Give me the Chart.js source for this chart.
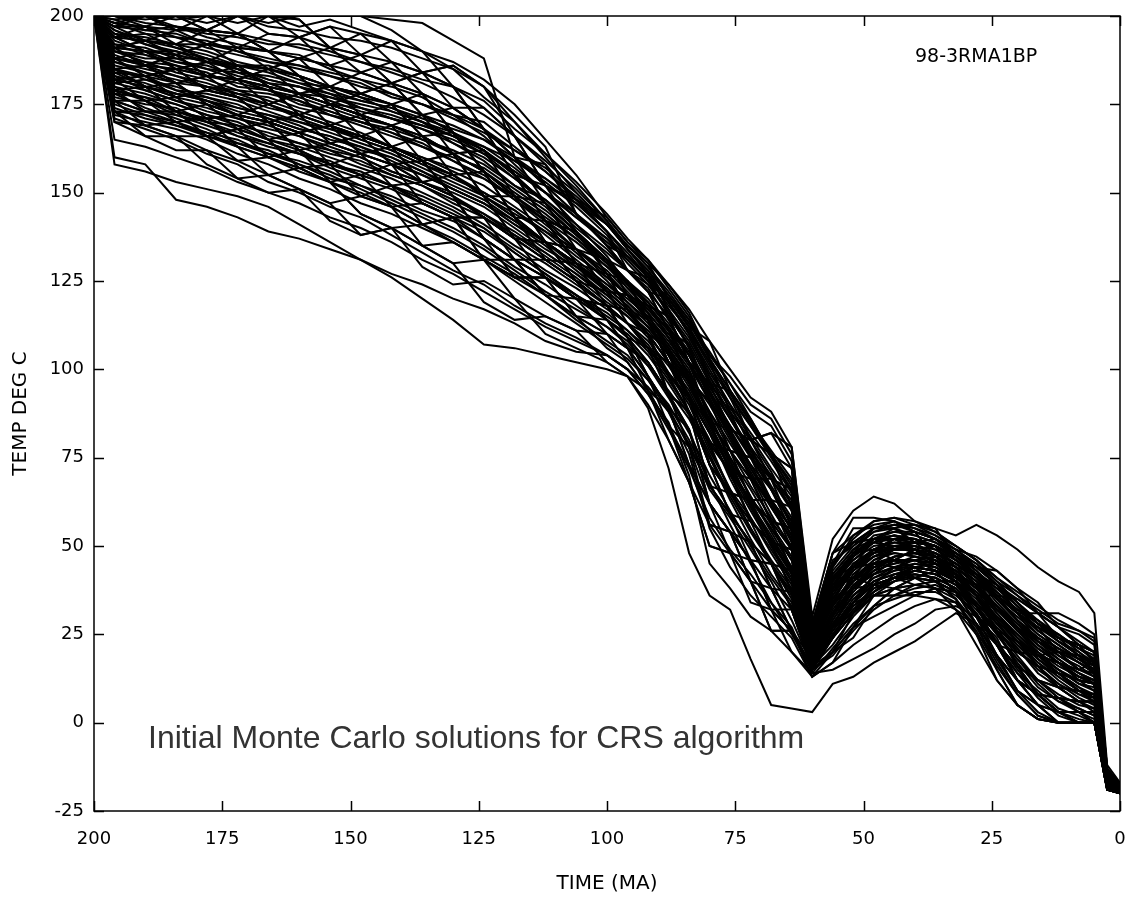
<!DOCTYPE html>
<html><head><meta charset="utf-8">
<script src="https://cdn.jsdelivr.net/npm/chart.js@4.4.1/dist/chart.umd.min.js"></script>
<style>html,body{margin:0;padding:0;background:#fff;}canvas{display:block;}</style>
</head><body>
<canvas id="c" width="1132" height="897"></canvas>
<script>
// Time grid (Ma) shared by every Monte Carlo path
const times = [200,196,190,184,178,172,166,160,154,148,142,136,130,124,118,112,106,100,96,92,88,84,80,76,72,68,64,60,56,52,48,44,40,36,32,28,24,20,16,12,8,5,2.5,0];

// Temperature paths (deg C), one array per Monte Carlo solution
const r01 = [200,185,186,181,183,182,175,172,175,172,163,159,161,156,143,136,134,122,121,114,102,97,85,71,69,57,55,21,38,41,49,46,49,45,42,33,26,20,19,14,12,11,-16,-19];
const r02 = [200,194,193,189,192,186,185,188,186,178,175,166,167,162,149,142,139,127,121,118,111,107,91,83,80,69,66,27,45,55,55,57,54,52,47,44,39,31,27,24,19,17,-15,-18];
const r03 = [200,176,176,170,166,168,160,157,158,155,146,141,143,131,126,126,115,110,106,98,84,78,56,54,40,38,26,16,20,31,36,38,41,38,37,28,19,9,5,0,0,0,-18,-20];
const r04 = [200,200,200,200,200,195,200,199,191,189,193,184,180,168,160,147,139,131,125,114,106,97,85,71,63,63,55,23,38,48,52,49,49,50,44,39,32,27,19,17,15,14,-17,-19];
const r05 = [200,191,186,185,187,186,180,178,175,166,163,159,149,143,137,136,125,118,109,102,93,78,67,59,46,45,37,20,34,38,42,46,44,43,37,30,22,16,8,7,6,6,-18,-19];
const r06 = [200,182,183,181,175,172,175,172,164,161,163,166,155,149,149,142,130,122,117,110,98,88,79,65,57,51,37,18,27,38,45,46,46,47,42,36,26,20,16,10,9,8,-16,-19];
const r07 = [200,197,197,192,196,195,190,194,191,195,193,190,180,174,166,152,144,135,128,126,120,112,108,94,86,76,72,28,48,51,52,52,51,52,49,47,43,38,34,27,25,22,-14,-18];
const r08 = [200,179,180,177,179,177,170,167,158,155,158,153,149,137,131,121,115,114,109,98,89,83,62,54,51,38,32,15,24,34,39,41,44,43,40,30,19,12,5,3,3,0,-19,-20];
const r09 = [200,188,190,189,183,182,185,183,180,172,169,172,174,168,160,152,148,139,128,122,115,102,91,77,69,57,49,21,31,38,45,46,44,40,37,33,26,23,19,17,12,11,-15.5,-18.5];
const r10 = [200,173,169,170,166,159,155,157,153,155,152,141,136,131,120,115,111,110,102,94,84,68,56,48,34,32,26,18,27,34,39,38,39,40,35,25,15,5,1,0,0,0,-19,-20];
const r11 = [200,194,190,189,183,182,180,172,169,166,169,166,161,162,155,147,134,127,125,118,115,107,96,94,80,76,61,25,41,44,52,55,51,50,42,39,29,23,19,20,19,14,-16,-19];
const r12 = [200,185,180,177,171,168,165,167,164,161,152,147,143,143,137,136,130,122,121,114,102,92,79,71,57,51,43,20,31,41,45,49,49,45,42,33,26,16,12,10,6,6,-18,-19];
const r13 = [200,200,197,200,196,200,200,194,197,195,187,184,186,180,166,158,144,135,128,122,111,97,85,77,75,63,55,23,34,41,49,49,51,47,42,39,36,31,27,24,22,17,-15,-18];
const r14 = [200,170,169,166,162,154,155,151,142,138,140,135,130,119,114,115,111,102,98,90,80,68,50,48,40,26,26,15,20,27,36,36,36,38,32,22,12,5,1,0,0,0,-18,-20];
const r15 = [200,191,193,192,192,195,190,188,180,178,175,178,174,168,155,147,139,131,121,114,102,92,73,65,63,57,43,18,24,34,42,44,41,43,40,33,29,20,16,14,9,8,-18,-19];
const r16 = [200,182,176,173,171,172,170,162,158,149,146,135,130,131,126,126,120,118,113,106,102,92,85,77,75,69,66,27,41,41,45,46,44,43,40,36,36,31,31,31,28,25,-13,-17.5];
const r17 = [200,188,183,185,179,177,170,167,169,166,163,153,149,137,131,126,120,114,106,102,93,88,73,59,51,45,32,16,27,38,42,46,46,45,40,30,22,12,8,3,3,3,-17,-19];
const r18 = [200,197,200,196,196,191,190,183,180,178,181,172,167,156,149,136,130,122,113,106,93,83,62,54,46,32,26,15,24,31,39,41,41,40,35,28,15,5,1,0,0,0,-19,-20];
const r19 = [200,176,173,173,175,168,165,157,153,144,140,135,136,131,131,131,125,118,117,110,106,97,91,83,69,63,49,21,38,44,49,52,54,47,44,39,36,31,23,20,15,14,-16,-19];
const r20 = [200,185,186,185,183,177,175,178,175,172,163,159,155,149,137,131,125,118,109,102,93,88,73,65,63,57,55,23,38,41,45,44,44,43,37,30,22,20,16,10,9,8,-15.5,-18.5];
const r21 = [200,179,176,177,175,172,165,162,158,161,158,159,155,149,143,131,125,114,109,98,89,73,56,54,46,45,37,18,31,38,39,41,39,38,35,25,19,12,8,3,3,3,-17,-19];
const r22 = [200,194,197,196,200,200,195,194,186,184,181,184,174,168,160,158,148,143,136,130,120,112,96,88,75,69,55,23,41,48,55,55,56,55,47,42,36,35,31,24,22,17,-15,-18.5];
const r23 = [200,173,166,162,162,159,160,157,153,144,140,141,143,137,131,121,115,110,106,102,93,83,67,65,57,45,43,20,27,31,36,36,39,38,37,30,26,16,12,7,6,6,-17,-19];
const r24 = [200,191,190,185,179,177,175,178,180,178,175,166,161,156,143,142,139,131,125,114,106,92,79,71,57,51,49,21,34,44,49,49,49,45,42,36,29,23,16,14,12,11,-18,-19];
const r25 = [200,185,183,177,179,182,185,183,175,172,169,159,149,143,137,126,120,118,113,106,98,88,67,59,51,45,32,16,24,34,39,44,46,45,42,39,29,23,19,17,12,11,-16,-19];
const r26 = [200,200,200,196,192,191,195,194,197,189,187,178,167,162,155,142,134,127,117,110,102,97,85,83,80,76,72,28,45,51,52,52,49,47,47,42,39,35,31,27,22,20,-14,-18];
const r27 = [200,176,169,166,158,154,150,151,147,149,146,147,143,143,137,131,130,122,121,114,102,88,73,59,51,38,26,15,20,24,33,38,39,40,37,28,19,9,5,0,0,0,-18,-19];
const r28 = [200,188,186,189,187,191,190,183,175,172,163,159,161,162,155,152,144,135,132,126,115,102,85,77,63,57,43,20,34,41,42,44,41,40,40,33,22,16,8,7,6,3,-18,-20];
const r29 = [200,182,180,181,183,182,180,172,169,161,158,153,155,156,149,136,130,127,121,118,111,102,96,83,69,63,61,25,41,48,49,52,49,47,42,39,32,27,23,20,15,17,-15.5,-19];
const r30 = [200,197,193,192,187,182,180,178,180,184,187,184,180,168,155,142,130,118,109,106,98,92,79,77,69,69,61,25,38,44,45,46,46,47,44,42,36,31,27,24,22,17,-15,-18.5];
const r31 = [200,179,173,170,171,163,160,162,164,166,163,159,149,137,126,121,120,114,106,98,89,73,62,48,40,26,26,13,17,27,33,38,36,38,32,25,12,5,1,0,0,0,-19,-20];
const r32 = [200,191,193,196,196,195,190,188,186,189,181,178,167,156,149,147,139,127,117,110,93,88,67,59,57,51,37,18,27,34,36,38,41,40,40,33,22,16,8,7,3,3,-18,-20];
const r33 = [200,185,180,173,166,168,170,172,175,172,175,172,167,156,143,136,134,131,128,122,120,112,102,88,80,82,78,28,48,58,58,57,54,52,49,44,43,38,31,27,22,20,-14,-18];
const r34 = [200,173,173,173,171,172,170,162,153,149,152,153,149,143,131,126,115,106,102,94,89,78,62,54,40,32,20,13,20,27,30,33,36,35,32,28,22,12,8,3,0,0,-19,-20];
const r35 = [200,194,190,185,183,186,185,188,191,189,181,172,161,149,143,136,125,122,117,114,106,92,73,65,63,63,55,23,38,41,39,41,44,45,42,39,32,27,19,14,9,8,-17,-19];
const r36 = [200,188,186,181,175,172,170,167,169,172,169,166,161,149,137,131,125,118,113,110,102,97,85,71,63,51,49,20,31,38,45,46,49,47,44,36,26,16,12,10,6,6,-18,-20];
const r37 = [200,200,200,200,196,200,200,199,191,184,181,178,174,174,166,152,139,131,121,118,115,107,91,83,69,57,49,21,38,44,45,46,46,43,40,30,22,12,8,3,3,0,-19,-20];
const r38 = [200,170,166,166,166,163,155,151,147,138,140,129,124,125,120,110,106,102,98,94,84,73,62,54,46,32,32,16,24,31,39,41,44,43,42,36,26,20,16,10,9,8,-16,-19];
const r39 = [200,182,183,185,187,186,180,178,169,166,158,147,143,131,126,126,120,110,106,94,80,68,50,48,46,38,37,18,27,34,39,41,44,40,37,30,19,12,5,3,0,0,-18,-19];
const r40 = [200,191,186,189,192,191,185,178,175,178,181,184,186,180,172,163,144,135,128,122,111,102,96,88,80,82,72,27,45,51,55,55,51,50,47,42,39,31,27,20,19,14,-15.5,-18.5];
const r41 = [200,158,156,153,151,149,146,141,136,131,126,120,114,107,106,104,102,100,98,89,72,48,36,32,18,5,4,3,11,13,17,20,23,27,31,28,18,9,3,0,0,0,-18,-19.5];
const r42 = [200,160,158,148,146,143,139,137,134,131,127,124,120,117,113,108,105,104,100,93,85,70,45,38,30,26,20,14,15,18,21,25,28,32,33,30,24,12,5,0,0,0,-18,-20];
const r43 = [200,165,163,160,157,153,150,147,143,140,136,131,127,122,117,112,108,104,100,95,88,76,55,44,36,30,24,13,17,22,26,30,33,35,34,26,16,8,2,0,0,0,-19,-20];
const r44 = [200,200,200,200,200,200,200,200,200,200,199,198,193,188,160,152,147,141,135,130,124,117,108,100,92,88,78,30,52,60,64,62,57,54,50,46,40,34,28,24,22,20,-14,-18];
const r45 = [200,198,200,199,200,198,200,197,199,196,193,190,187,182,175,165,155,143,136,131,124,116,104,98,90,86,76,28,48,53,57,58,57,55,53,56,53,49,44,40,37,31,-12,-17];
const r46 = [200,200,200,200,200,200,198,200,200,200,196,190,185,177,170,160,150,141,134,128,121,114,104,96,88,84,74,28,46,50,55,56,56,54,50,46,41,36,32,28,26,24,-13,-17.5];
const r47 = [200,190,187,186,184,180,179,176,172,170,168,165,162,158,152,148,140,133,128,124,116,108,97,86,78,70,62,24,40,47,51,53,52,50,46,41,35,29,24,21,17,14,-16,-19];
const r48 = [200,178,174,171,168,164,162,158,155,151,147,143,139,134,128,122,117,112,108,101,92,82,70,60,50,41,33,17,25,33,37,40,42,41,38,31,22,14,9,4,2,0,-18,-20];
const r49 = [200,199,196,197,194,192,190,189,185,182,180,177,172,166,158,150,141,132,124,116,104,92,78,66,55,46,38,19,30,39,43,47,48,46,42,36,28,21,14,10,6,4,-17,-19.5];
const r50 = [200,183,181,178,177,175,171,168,166,162,160,156,151,147,141,135,128,121,116,111,104,97,88,79,70,61,52,22,36,45,49,51,50,48,44,40,33,27,22,18,14,12,-16,-19];
const r51 = [200,196,192,190,187,185,181,180,176,173,171,168,165,161,156,150,143,136,131,125,119,111,101,92,84,76,68,26,43,50,54,55,53,51,48,45,40,36,31,27,23,20,-14,-18];
const r52 = [200,171,168,165,161,158,153,150,146,143,138,133,128,124,118,113,109,104,100,93,83,72,58,49,42,34,27,14,21,28,33,35,37,37,34,27,17,8,2,0,0,0,-19,-20];
const r53 = [200,200,199,200,198,200,197,196,194,193,191,188,185,180,170,161,152,142,134,128,119,110,99,90,82,74,65,26,44,52,57,58,56,53,50,46,41,37,33,29,26,23,-13,-17.5];
const r54 = [200,187,185,183,180,179,176,173,170,167,163,160,156,152,146,140,133,125,119,113,105,96,86,75,66,56,47,21,33,40,46,48,47,46,41,36,30,25,19,15,11,9,-17,-19];
const r55 = [200,175,172,169,167,163,160,156,153,150,146,141,137,132,127,121,114,108,104,97,88,79,66,58,49,40,29,16,22,30,36,40,43,42,39,33,25,18,11,6,4,2,-18,-19.5];
const r56 = [200,192,191,188,188,184,183,181,178,176,174,170,167,163,157,150,143,137,130,124,117,109,98,89,81,72,64,25,39,46,51,50,50,48,45,41,36,32,29,25,21,18,-15,-18.5];
const r57 = [200,180,178,175,172,170,166,164,162,158,155,152,147,143,138,133,127,120,115,109,99,91,80,71,61,52,44,19,28,36,41,43,45,44,40,35,28,22,17,12,8,7,-17,-19];
const r58 = [200,198,197,194,193,190,187,186,183,181,177,175,172,170,163,156,148,139,132,127,119,110,100,90,78,66,54,22,35,43,48,50,48,46,43,38,32,26,21,17,13,11,-16,-19];
const r59 = [200,177,175,174,170,167,164,161,159,155,152,148,144,140,134,128,123,117,113,107,99,90,77,66,58,49,40,18,27,35,40,43,44,43,40,34,27,21,15,11,8,6,-17,-19];
const r60 = [200,190,188,188,185,184,181,178,175,174,171,169,166,163,159,154,148,141,134,127,117,106,93,82,72,63,53,22,36,44,48,52,51,50,47,41,34,28,23,19,16,13,-15.5,-18.5];
const r61 = [200,183,179,176,174,171,169,166,163,160,156,153,150,146,140,134,129,123,118,112,106,98,90,80,70,62,51,22,34,40,44,46,46,45,42,38,33,28,24,20,17,15,-15,-18];
const r62 = [200,172,170,168,165,161,158,154,151,147,144,140,136,131,125,119,113,107,103,97,90,80,68,56,45,34,25,15,19,26,32,36,38,39,36,31,23,15,8,3,1,0,-18,-20];
const r63 = [200,200,198,197,196,195,193,191,189,187,185,182,180,176,168,161,153,144,137,131,123,115,103,92,80,71,60,24,42,49,52,53,52,49,45,41,36,31,25,21,18,16,-15,-18.5];
const r64 = [200,186,184,181,180,177,174,172,169,165,162,158,154,150,145,138,131,124,120,115,108,100,87,74,61,50,40,18,29,37,43,47,48,47,43,38,31,25,20,15,11,10,-17,-19];
const r65 = [200,194,195,191,189,186,186,183,180,177,173,170,166,161,154,147,139,130,123,117,110,102,91,82,73,66,57,23,37,44,47,49,50,49,46,42,38,33,28,25,20,16,-15,-18];
const r66 = [200,179,177,173,170,169,165,163,160,157,154,150,146,141,135,130,124,118,113,108,101,92,82,69,58,48,39,17,25,32,37,42,44,43,41,36,30,23,18,13,9,6,-17,-19.5];
const r67 = [200,196,193,191,188,185,182,180,177,175,173,170,164,159,152,146,138,130,124,119,112,104,94,84,76,70,63,25,40,46,50,51,51,50,47,44,39,33,26,22,18,15,-16,-19];
const r68 = [200,181,182,180,177,174,172,169,165,163,159,155,151,147,142,136,129,122,117,112,105,96,84,72,63,55,46,20,31,39,44,45,46,44,41,37,32,26,20,16,13,11,-16,-19];
const r69 = [200,189,186,183,181,178,177,174,172,169,166,163,160,157,151,145,138,130,124,118,109,98,85,73,62,51,42,19,29,38,44,47,48,46,42,37,30,24,18,14,10,8,-17,-19];
const r70 = [200,174,171,169,166,164,161,158,154,152,148,144,140,135,129,124,118,112,107,101,94,86,75,65,55,45,35,16,24,31,37,41,43,42,39,33,25,17,10,6,3,1,-18,-20];
const r71 = [200,197,196,195,192,190,188,186,184,182,178,175,171,167,162,157,150,141,134,127,119,110,98,87,77,67,58,24,39,47,53,54,54,52,48,43,37,32,28,23,19,17,-15,-18];
const r72 = [200,184,183,179,176,174,172,170,167,164,161,157,153,149,144,139,134,128,122,116,109,101,91,81,71,61,52,21,35,43,47,48,47,45,41,36,30,24,19,15,12,9,-16.5,-19];
const r73 = [200,192,189,187,185,182,179,177,174,171,169,165,161,156,150,144,137,129,123,117,111,104,95,86,76,66,56,23,38,45,49,50,49,47,43,38,33,28,22,17,13,11,-16,-19];
const r74 = [200,176,173,172,169,166,164,161,158,156,152,149,145,140,133,127,121,114,110,104,96,87,75,63,52,42,34,17,25,32,38,40,41,40,37,30,22,14,7,2,0,0,-18.5,-20];
const r75 = [200,199,200,197,195,194,192,192,190,187,184,181,177,172,166,159,151,142,135,129,122,114,103,94,85,76,67,26,44,53,56,57,55,52,48,43,36,29,24,20,17,14,-15.5,-18.5];
const r76 = [200,185,182,179,178,176,173,170,168,166,163,160,157,154,148,142,136,129,125,119,112,104,93,82,72,62,53,22,33,42,47,50,51,50,46,41,35,30,25,21,18,15,-15.5,-18.5];
const r77 = [200,188,187,184,182,179,178,176,173,170,167,164,159,155,148,141,134,126,121,115,107,99,87,75,64,54,44,20,30,38,43,45,47,46,43,38,31,24,18,14,10,7,-17,-19.5];
const r78 = [200,180,176,172,170,166,163,161,157,154,151,147,143,139,133,127,121,116,111,105,97,88,76,64,54,45,36,17,26,34,40,42,42,41,38,32,25,18,12,8,5,4,-17.5,-19.5];
const r79 = [200,195,194,192,190,187,185,182,179,176,174,171,168,165,159,153,146,138,131,125,116,106,94,83,73,63,55,23,38,47,52,54,53,51,47,42,37,32,27,23,20,17,-15,-18];
const r80 = [200,182,180,178,176,173,171,168,166,163,160,156,152,148,142,136,130,123,118,112,104,95,84,74,64,55,46,20,32,40,45,47,48,47,44,39,33,26,21,17,13,12,-16,-19];
const r81 = [200,191,190,187,186,183,181,178,177,174,171,168,164,160,154,148,141,134,128,123,114,104,92,81,70,59,49,21,35,44,48,49,49,48,45,40,35,29,24,19,15,13,-16,-19];
const r82 = [200,178,177,175,172,169,167,164,161,159,155,152,148,144,138,132,126,119,115,110,102,94,83,72,62,53,43,19,28,36,40,42,43,42,39,34,28,22,16,11,7,5,-17,-19.5];
const r83 = [200,193,190,190,188,186,184,181,180,177,175,172,169,165,160,154,147,139,133,126,118,111,102,93,84,75,66,25,42,49,54,56,54,52,48,44,39,34,29,24,21,19,-14.5,-18];
const r84 = [200,187,184,182,180,178,175,171,168,165,162,158,155,150,145,139,132,126,121,116,109,102,93,84,75,66,57,23,37,44,48,50,50,48,45,41,35,29,23,18,14,12,-16,-19];
const r85 = [200,173,172,170,167,165,161,159,156,152,149,145,142,137,131,126,121,115,111,106,99,92,82,72,62,52,42,18,26,33,38,41,42,41,38,33,26,19,12,7,4,2,-18,-19.5];
const r86 = [200,198,195,194,191,189,187,185,183,180,178,175,172,168,162,156,149,141,135,129,121,113,103,94,85,77,69,27,45,51,55,56,55,53,49,45,39,34,28,23,19,16,-15.5,-18.5];
const r87 = [200,184,180,178,176,172,170,167,164,161,158,155,151,147,141,136,130,124,119,114,107,99,88,77,67,58,50,21,33,41,46,49,49,47,44,39,33,27,21,17,14,11,-16.5,-19];
const r88 = [200,181,179,176,173,171,168,166,162,160,156,153,149,144,139,133,127,121,116,110,102,93,82,70,60,50,41,18,28,36,41,44,45,44,41,36,29,23,17,13,9,7,-17,-19.5];
const r89 = [200,190,189,186,183,181,179,175,173,170,167,163,159,154,149,143,137,130,125,120,113,105,95,86,77,69,60,24,40,48,52,53,52,50,46,42,36,31,26,22,18,15,-15.5,-18.5];
const r90 = [200,195,192,189,187,185,182,180,178,174,172,169,166,162,156,150,144,137,132,126,120,113,105,96,86,76,65,25,41,48,51,52,52,50,47,43,38,33,28,25,21,18,-15,-18];

const runs = [r01,r02,r03,r04,r05,r06,r07,r08,r09,r10,r11,r12,r13,r14,r15,r16,r17,r18,r19,r20,
              r21,r22,r23,r24,r25,r26,r27,r28,r29,r30,r31,r32,r33,r34,r35,r36,r37,r38,r39,r40,
              r41,r42,r43,r44,r45,r46,r47,r48,r49,r50,r51,r52,r53,r54,r55,r56,r57,r58,r59,r60,
              r61,r62,r63,r64,r65,r66,r67,r68,r69,r70,r71,r72,r73,r74,r75,r76,r77,r78,r79,r80,
              r81,r82,r83,r84,r85,r86,r87,r88,r89,r90];

const xTickValues = [200,175,150,125,100,75,50,25,0];
const yTickValues = [200,175,150,125,100,75,50,25,0,-25];
const xTitle = 'TIME (MA)';
const yTitle = 'TEMP DEG C';
const sampleLabel = '98-3RMA1BP';
const noteLabel = 'Initial Monte Carlo solutions for CRS algorithm';

const datasets = runs.map((run, k) => ({
  label: 'run ' + (k + 1),
  data: times.map((t, i) => ({x: t, y: run[i]})),
  borderColor: '#000',
  borderWidth: 2,
  pointRadius: 0,
  pointHoverRadius: 0,
  fill: false,
  tension: 0
}));

const framePlugin = {
  id: 'frame',
  afterDatasetsDraw(chart) {
    const {ctx, chartArea: a, scales: {x, y}} = chart;
    ctx.save();
    ctx.strokeStyle = '#000';
    ctx.lineWidth = 1.5;
    ctx.strokeRect(a.left, a.top, a.right - a.left, a.bottom - a.top);
    const L = 10;
    ctx.beginPath();
    x.ticks.forEach(t => {
      const px = Math.round(x.getPixelForValue(t.value)) + 0.5;
      ctx.moveTo(px, a.bottom); ctx.lineTo(px, a.bottom - L);
      ctx.moveTo(px, a.top); ctx.lineTo(px, a.top + L);
    });
    y.ticks.forEach(t => {
      const py = Math.round(y.getPixelForValue(t.value)) + 0.5;
      ctx.moveTo(a.left, py); ctx.lineTo(a.left + L, py);
      ctx.moveTo(a.right, py); ctx.lineTo(a.right - L, py);
    });
    ctx.stroke();
    ctx.fillStyle = '#000';
    ctx.font = '19px "DejaVu Sans"';
    ctx.textAlign = 'left';
    ctx.textBaseline = 'alphabetic';
    ctx.fillText(sampleLabel, 915, 62);
    ctx.fillStyle = '#333';
    ctx.font = '32px "Liberation Sans"';
    ctx.fillText(noteLabel, 148, 748);
    ctx.restore();
  }
};

new Chart(document.getElementById('c'), {
  type: 'line',
  data: {datasets},
  options: {
    responsive: false,
    animation: false,
    events: [],
    layout: {padding: {left: 0, right: 12, top: 16, bottom: 0}},
    plugins: {legend: {display: false}, tooltip: {enabled: false}},
    scales: {
      x: {
        type: 'linear', reverse: true, min: 0, max: 200,
        afterFit: s => { s.height = 86; },
        afterBuildTicks: s => { s.ticks = xTickValues.map(v => ({value: v})); },
        grid: {display: false, drawTicks: true, tickLength: 18},
        border: {display: false},
        ticks: {padding: 0, color: '#000', font: {family: 'DejaVu Sans', size: 18}, maxRotation: 0, autoSkip: false},
        title: {display: true, text: xTitle, color: '#000', font: {family: 'DejaVu Sans', size: 20}, padding: {top: 0, bottom: 1}}
      },
      y: {
        type: 'linear', min: -25, max: 200,
        afterFit: s => { s.width = 94; },
        afterBuildTicks: s => { s.ticks = yTickValues.map(v => ({value: v})); },
        grid: {display: false, drawTicks: true, tickLength: 10},
        border: {display: false},
        ticks: {padding: 0, color: '#000', font: {family: 'DejaVu Sans', size: 18}, autoSkip: false},
        title: {display: true, text: yTitle, color: '#000', font: {family: 'DejaVu Sans', size: 20}, padding: {top: 9, bottom: 0}}
      }
    }
  },
  plugins: [framePlugin]
});
</script>
</body></html>
